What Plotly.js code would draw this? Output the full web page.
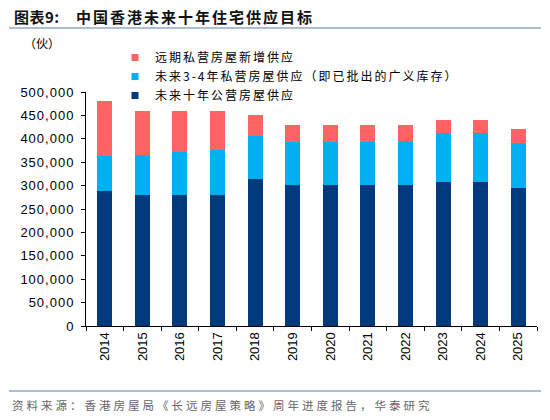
<!DOCTYPE html>
<html>
<head>
<meta charset="utf-8">
<script src="https://cdn.plot.ly/plotly-3.0.1.min.js"></script>
<style>
  body { margin: 0; background: #fff; }
  #chart { width: 550px; height: 420px; }
</style>
</head>
<body>
<div id="chart"></div>
<script>
// 年份
var years = ['2014','2015','2016','2017','2018','2019','2020','2021','2022','2023','2024','2025'];
// 未来十年公营房屋供应
var publicSupply = [288000, 280000, 280000, 280000, 315000, 301000, 301000, 301000, 301000, 308000, 308000, 294000];
// 未来3-4年私营房屋供应（即已批出的广义库存）
var privateNear = [75000, 86000, 92000, 96000, 92000, 92000, 92000, 92000, 95000, 105000, 105000, 98000];
// 远期私营房屋新增供应
var privateFar = [117000, 94000, 88000, 84000, 43000, 37000, 37000, 37000, 34000, 27000, 27000, 28000];

var seriesNames = ['未来十年公营房屋供应', '未来3-4年私营房屋供应（即已批出的广义库存）', '远期私营房屋新增供应'];
var seriesColors = ['#003A7D', '#00B0F0', '#FF6464'];

var yTicks = [0, 50000, 100000, 150000, 200000, 250000, 300000, 350000, 400000, 450000, 500000];

var W = 550, H = 420;
var M = {l: 86, r: 13, t: 92, b: 94};
// pixel -> paper coords
var px = x => (x - M.l) / (W - M.l - M.r);
var py = y => (H - M.b - y) / (H - M.t - M.b);
var spaced = (s, n, extra) => '<span style="' + (extra || '') + 'letter-spacing:' + n + 'px">' + s + '</span>';

var cjk = '"Noto Sans CJK SC", "Liberation Sans", sans-serif';
var latin = '"Liberation Sans", Arial, sans-serif';

var values = [publicSupply, privateNear, privateFar];
var traces = values.map((v, i) => ({
  type: 'bar', x: years, y: v, name: seriesNames[i],
  marker: {color: seriesColors[i]}, showlegend: false
}));
// small square legend keys
values.forEach((v, i) => traces.push({
  type: 'scatter', mode: 'markers', x: [null], y: [null],
  name: spaced(seriesNames[i], 2),
  marker: {symbol: 'square', size: 7, color: seriesColors[i]}
}));

var layout = {
  width: W, height: H,
  margin: M,
  barmode: 'stack',
  bargap: 0.6,
  paper_bgcolor: '#fff',
  plot_bgcolor: '#fff',
  font: {family: cjk, size: 12, color: '#000'},
  showlegend: true,
  legend: {
    x: px(115), y: py(43), xanchor: 'left', yanchor: 'top',
    traceorder: 'reversed',
    font: {family: cjk, size: 12, color: '#000'},
    itemwidth: 30, tracegroupgap: 0,
    bgcolor: 'rgba(0,0,0,0)'
  },
  xaxis: {
    type: 'category',
    tickangle: -90,
    showline: true, linecolor: '#000', linewidth: 1,
    ticks: 'outside', ticklen: 4, tickcolor: '#000',
    tickson: 'boundaries',
    showgrid: false, zeroline: false,
    tickfont: {family: latin, size: 13, color: '#000'}
  },
  yaxis: {
    range: [0, 500000],
    tickvals: yTicks,
    ticktext: yTicks.map(v => spaced(v.toLocaleString('en-US'), 1)),
    showline: true, linecolor: '#000', linewidth: 1,
    ticks: 'outside', ticklen: 4, tickcolor: '#000',
    ticklabelstandoff: 4,
    showgrid: false, zeroline: false,
    tickfont: {family: latin, size: 13, color: '#000'}
  },
  shapes: [
    {type: 'line', xref: 'paper', yref: 'paper', x0: px(9), x1: px(541), y0: py(28), y1: py(28),
     line: {color: '#8EA9C8', width: 1.5}},
    {type: 'line', xref: 'paper', yref: 'paper', x0: px(9), x1: px(541), y0: py(391), y1: py(391),
     line: {color: '#8EA9C8', width: 1.5}}
  ],
  annotations: [
    {xref: 'paper', yref: 'paper', x: px(12), y: py(16), xanchor: 'left', yanchor: 'middle',
     showarrow: false,
     text: spaced('图表9:', 0.5, 'font-weight:bold;') + spaced('   ', 2, 'font-weight:bold;') +
           spaced('中国香港未来十年住宅供应目标', 2, 'font-weight:bold;'),
     font: {family: cjk, size: 15, color: '#111'}},
    {xref: 'paper', yref: 'paper', x: px(22), y: py(43), xanchor: 'left', yanchor: 'middle',
     showarrow: false, text: '（伙）', font: {family: cjk, size: 12, color: '#000'}},
    {xref: 'paper', yref: 'paper', x: px(10), y: py(405), xanchor: 'left', yanchor: 'middle',
     showarrow: false, text: spaced('资料来源：香港房屋局《长远房屋策略》周年进度报告，华泰研究', 3),
     font: {family: cjk, size: 11.5, color: '#666'}}
  ]
};

Plotly.newPlot('chart', traces, layout, {displayModeBar: false, staticPlot: true});
</script>
</body>
</html>
